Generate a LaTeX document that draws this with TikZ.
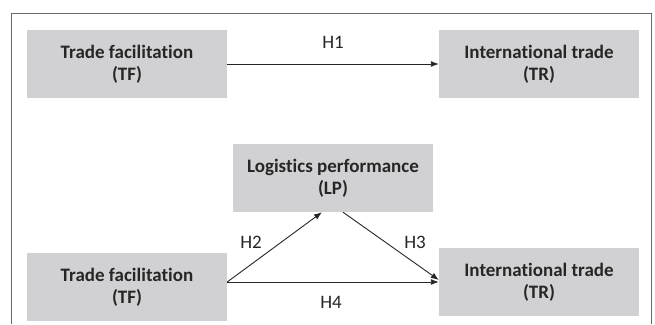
\documentclass[tikz,border=0pt]{standalone}
\usepackage{fontspec}
\setmainfont[Ligatures={NoCommon}]{Carlito}
\usepackage{xcolor}
\usepackage{tikz}
\usetikzlibrary{arrows.meta,positioning,calc}

\definecolor{boxgray}{HTML}{D1D1D3}
\definecolor{framegray}{HTML}{6A6A6A}
\definecolor{inkdark}{HTML}{262626}

\tikzset{
  varbox/.style={fill=boxgray, minimum width=200pt, minimum height=68pt,
    inner sep=0pt, align=center, text=inkdark,
    font=\fontsize{19}{22}\selectfont\bfseries},
  hyplink/.style={draw=inkdark, line width=0.9pt, -{Latex[length=8pt,width=6pt]}},
  hyplabel/.style={text=inkdark, font=\fontsize{19}{22}\selectfont}
}

\begin{document}
\begin{tikzpicture}[x=1pt, y=-1pt]
\useasboundingbox (0,0) rectangle (655,324);

% Frame (open at the bottom)
\draw[framegray, line width=1pt] (11,324) -- (11,13) -- (651,13) -- (651,324);

% Direct effect
\node[varbox] (tfa) at (127,64) {Trade facilitation\\(TF)};
\node[varbox] (tra) at (539,64) {International trade\\(TR)};
\draw[hyplink] (tfa.east) -- (tra.west) node[hyplabel, midway, above=12pt] {H1};

% Mediation model
\node[varbox] (lp) at (333,178) {Logistics performance\\(LP)};
\node[varbox] (tfb) at (127,287) {Trade facilitation\\(TF)};
\node[varbox] (trb) at (539,282) {International trade\\(TR)};

\draw[hyplink] ([yshift=5pt]tfb.east) -- ([xshift=-11pt]lp.south);
\draw[hyplink] ([xshift=10pt]lp.south) -- ([yshift=2pt]trb.west);
\draw[hyplink] ([yshift=5pt]tfb.east) -- (trb.west);

% Labels
\node[hyplabel] (htwo) at (251,242) {H2};
\node[hyplabel] (hthree) at (415,242) {H3};
\node[hyplabel] (hfour) at (331,302) {H4};
\end{tikzpicture}
\end{document}
